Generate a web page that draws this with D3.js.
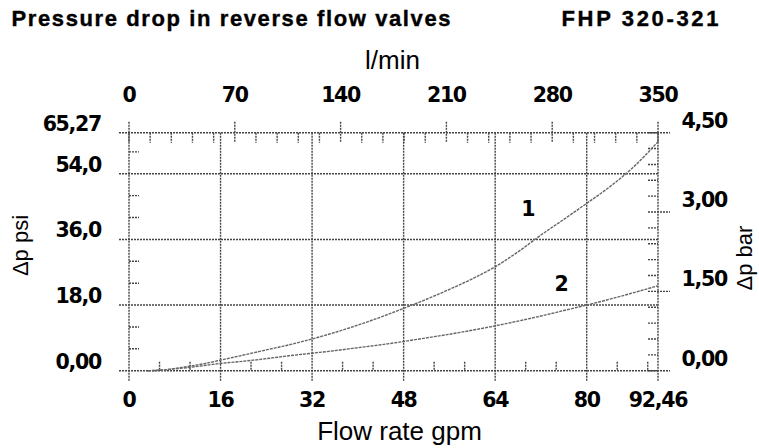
<!DOCTYPE html>
<html>
<head>
    <title>Pressure drop in reverse flow valves</title>
    <script src="https://d3js.org/d3.v7.min.js"></script>
    <style>
        body {
            margin: 0;
            background: #fff;
        }
        text {
            font-family: "Liberation Sans", Arial, sans-serif;
        }
        .bold {
            font-family: "DejaVu Sans", sans-serif;
            font-weight: bold;
            font-size: 20.5px;
            letter-spacing: -1.3px;
        }
        .heading {
            font-family: "Liberation Sans", Arial, sans-serif;
            font-weight: bold;
            font-size: 22px;
            stroke: #000;
            stroke-width: 0.4px;
        }
        .title-axis {
            font-size: 26px;
        }
    </style>
</head>
<body>
    <svg id="chart" width="759" height="448"></svg>
    <script>
        // flow rate (gpm) vs pressure drop (psi)
        const curve1 = [
            [3.3, 0], [6, 0.2], [8, 0.6], [10, 1.1], [12, 1.6], [14, 2.2], [16, 2.9],
            [20, 4.3], [24, 5.7], [28, 7.1], [32, 8.7], [36, 10.5], [40, 12.5],
            [44, 14.7], [48, 17.1], [52, 19.6], [56, 22.3], [60, 25.2], [64, 28.5],
            [68, 32.6], [72, 37.2], [76, 41.5], [80, 45.9], [84, 50.4], [88, 55.6],
            [92.46, 62.8]
        ];
        const curve2 = [
            [3.3, 0], [6, 0.2], [8, 0.5], [10, 0.8], [12, 1.2], [14, 1.6], [16, 2.0],
            [20, 2.6], [24, 3.3], [28, 4.1], [32, 4.8], [36, 5.5], [40, 6.3],
            [44, 7.1], [48, 8.0], [52, 9.0], [56, 10.0], [60, 11.1], [64, 12.3],
            [68, 13.6], [72, 15.0], [76, 16.5], [80, 18.0], [84, 19.6], [88, 21.3],
            [92.46, 23.3]
        ];
        const curveLabels = [
            { name: '1', gpm: 69.7, psi: 44.3 },
            { name: '2', gpm: 75.5, psi: 23.8 }
        ];

        const gpmTicks = [0, 16, 32, 48, 64, 80, 92.46];
        const gpmTickLabels = ['0', '16', '32', '48', '64', '80', '92,46'];
        const lminTicks = [0, 70, 140, 210, 280, 350];
        const psiTicks = [0, 18, 36, 54, 65.27];
        const psiTickLabels = ['0,00', '18,0', '36,0', '54,0', '65,27'];
        const barTicks = [0, 1.5, 3, 4.5];
        const barTickLabels = ['0,00', '1,50', '3,00', '4,50'];

        const svg = d3.select('#chart');

        const plotL = 129, plotR = 658, plotT = 132.7, plotB = 370.7;

        const x = d3.scaleLinear().domain([0, 92.46]).range([plotL, plotR]);
        const xTop = d3.scaleLinear().domain([0, 350]).range([plotL, plotR]);
        const y = d3.scaleLinear().domain([0, 65.27]).range([plotB, plotT]);
        const yBar = d3.scaleLinear().domain([0, 4.5]).range([plotB, plotT]);

        const gridColor = '#444';
        const dash = '2,1';

        // title
        svg.append('text')
            .attr('class', 'heading')
            .attr('x', 11.5).attr('y', 26)
            .attr('textLength', 439)
            .attr('lengthAdjust', 'spacing')
            .text('Pressure drop in reverse flow valves');
        svg.append('text')
            .attr('class', 'heading')
            .attr('x', 561.5).attr('y', 26)
            .attr('textLength', 157)
            .attr('lengthAdjust', 'spacing')
            .text('FHP 320-321');

        const grid = svg.append('g')
            .attr('stroke', gridColor)
            .attr('stroke-width', 1.4)
            .attr('stroke-dasharray', dash)
            .attr('fill', 'none');

        // horizontal grid lines (psi)
        grid.selectAll('.hgrid')
            .data(psiTicks)
            .enter().append('line')
            .attr('x1', plotL - 10).attr('x2', plotR)
            .attr('y1', d => y(d)).attr('y2', d => y(d));

        // vertical grid lines (gpm)
        grid.selectAll('.vgrid')
            .data(gpmTicks)
            .enter().append('line')
            .attr('x1', d => x(d)).attr('x2', d => x(d))
            .attr('y1', plotT).attr('y2', plotB + 10);

        // top major ticks (l/min)
        grid.selectAll('.tmaj')
            .data(lminTicks)
            .enter().append('line')
            .attr('x1', d => xTop(d)).attr('x2', d => xTop(d))
            .attr('y1', plotT - 11).attr('y2', plotT + 10);

        // top minor ticks every 14 l/min
        grid.selectAll('.tmin')
            .data(d3.range(14, 350, 14).filter(v => v % 70 !== 0))
            .enter().append('line')
            .attr('x1', d => xTop(d)).attr('x2', d => xTop(d))
            .attr('y1', plotT).attr('y2', plotT + 10);

        // bottom minor ticks every 16/3 gpm
        grid.selectAll('.bmin')
            .data(d3.range(1, 18).map(i => i * 16 / 3).filter((v, i) => (i + 1) % 3 !== 0))
            .enter().append('line')
            .attr('x1', d => x(d)).attr('x2', d => x(d))
            .attr('y1', plotB - 9).attr('y2', plotB);

        // left minor ticks every 6 psi
        grid.selectAll('.lmin')
            .data(d3.range(6, 65, 6).filter(v => v % 18 !== 0))
            .enter().append('line')
            .attr('x1', plotL).attr('x2', plotL + 10)
            .attr('y1', d => y(d)).attr('y2', d => y(d));

        // right major ticks (bar)
        grid.selectAll('.rmaj')
            .data(barTicks)
            .enter().append('line')
            .attr('x1', plotR - 10).attr('x2', plotR + 12)
            .attr('y1', d => yBar(d)).attr('y2', d => yBar(d));

        // right minor ticks every 0.3 bar
        grid.selectAll('.rmin')
            .data(d3.range(1, 15).map(i => i * 0.3).filter((v, i) => (i + 1) % 5 !== 0))
            .enter().append('line')
            .attr('x1', plotR - 10).attr('x2', plotR)
            .attr('y1', d => yBar(d)).attr('y2', d => yBar(d));

        // curves
        const line = d3.line()
            .x(d => x(d[0]))
            .y(d => y(d[1]))
            .curve(d3.curveMonotoneX);

        [curve1, curve2].forEach(c => {
            svg.append('path')
                .datum(c)
                .attr('d', line)
                .attr('fill', 'none')
                .attr('stroke', '#666')
                .attr('stroke-width', 1.4)
                .attr('stroke-dasharray', '3,1');
        });

        svg.selectAll('.clabel')
            .data(curveLabels)
            .enter().append('text')
            .attr('class', 'bold')
            .attr('x', d => x(d.gpm))
            .attr('y', d => y(d.psi))
            .attr('text-anchor', 'middle')
            .attr('dominant-baseline', 'central')
            .text(d => d.name);

        // tick labels
        svg.selectAll('.blab')
            .data(gpmTicks)
            .enter().append('text')
            .attr('class', 'bold')
            .attr('x', d => x(d))
            .attr('y', 406.5)
            .attr('text-anchor', 'middle')
            .text((d, i) => gpmTickLabels[i]);

        svg.selectAll('.tlab')
            .data(lminTicks)
            .enter().append('text')
            .attr('class', 'bold')
            .attr('x', d => xTop(d))
            .attr('y', 101.5)
            .attr('text-anchor', 'middle')
            .text(d => d);

        svg.selectAll('.llab')
            .data(psiTicks)
            .enter().append('text')
            .attr('class', 'bold')
            .attr('x', 101)
            .attr('y', d => y(d) - 9)
            .attr('text-anchor', 'end')
            .attr('dominant-baseline', 'central')
            .text((d, i) => psiTickLabels[i]);

        svg.selectAll('.rlab')
            .data(barTicks)
            .enter().append('text')
            .attr('class', 'bold')
            .attr('x', 681.5)
            .attr('y', d => yBar(d) - 12)
            .attr('dominant-baseline', 'central')
            .text((d, i) => barTickLabels[i]);

        // axis titles
        svg.append('text')
            .attr('class', 'title-axis')
            .attr('x', (plotL + plotR) / 2 + 6)
            .attr('y', 440)
            .attr('text-anchor', 'middle')
            .text('Flow rate gpm');

        svg.append('text')
            .attr('class', 'title-axis')
            .attr('x', 392.5)
            .attr('y', 69)
            .attr('text-anchor', 'middle')
            .text('l/min');

        svg.append('text')
            .style('font-size', '22px')
            .attr('transform', 'translate(20,245.5) rotate(-90)')
            .attr('text-anchor', 'middle')
            .attr('dominant-baseline', 'central')
            .text('Δp psi');

        svg.append('text')
            .style('font-size', '22px')
            .attr('transform', 'translate(744,258) rotate(-90)')
            .attr('text-anchor', 'middle')
            .attr('dominant-baseline', 'central')
            .text('Δp bar');
    </script>
</body>
</html>
